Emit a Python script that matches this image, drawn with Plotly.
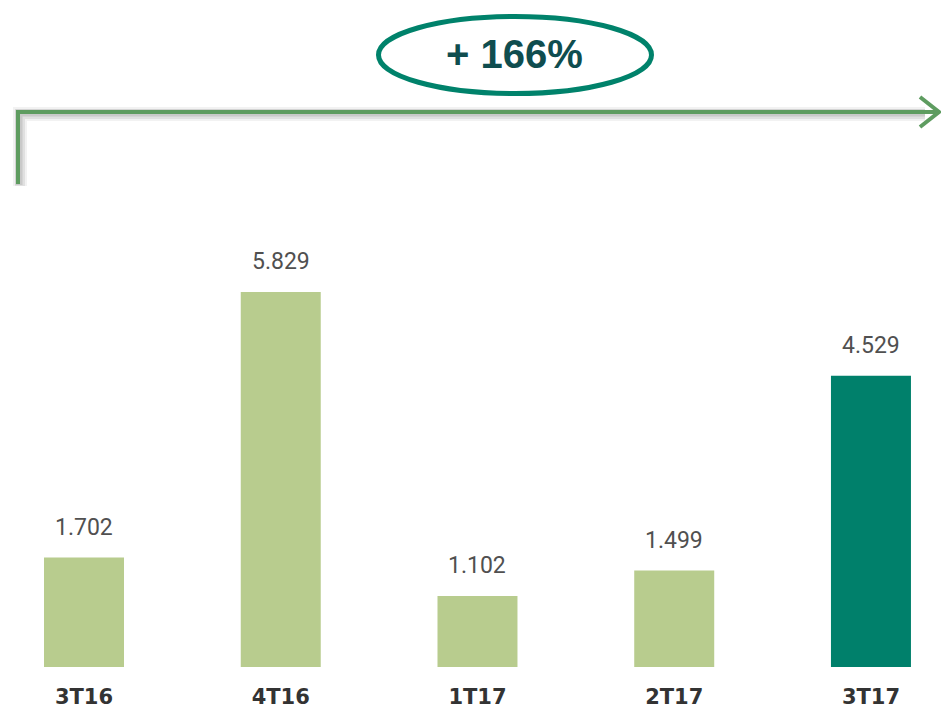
import plotly.graph_objects as go

categories = ["3T16", "4T16", "1T17", "2T17", "3T17"]
values = [1.702, 5.829, 1.102, 1.499, 4.529]
value_labels = ["1.702", "5.829", "1.102", "1.499", "4.529"]
bar_colors = ["#b8cc8e", "#b8cc8e", "#b8cc8e", "#b8cc8e", "#00806b"]
growth_label = "+ 166%"

W, H = 941, 708
B = 41
PH = H - B  # plot-area height in px

def px(x):
    return x / W

def py(y):
    return 1 - y / PH

fig = go.Figure()
fig.add_trace(go.Bar(
    x=categories, y=values, width=0.4066,
    marker=dict(color=bar_colors, line=dict(width=0)),
    hoverinfo="skip",
))

for c, v, t in zip(categories, values, value_labels):
    fig.add_annotation(x=c, y=v, xref="x", yref="y", text=t, showarrow=False,
                       yanchor="bottom", yshift=15,
                       font=dict(family="Roboto, Open Sans, sans-serif", size=23, color="#505050"))

shapes = []
green = "#5e9c60"
# soft shadow
for w, op, off in [(14, 0.05, 2), (10, 0.07, 2), (7, 0.10, 1)]:
    shapes.append(dict(type="path", xref="paper", yref="paper",
                       path=f"M {px(18+off)},{py(184+off)} L {px(18+off)},{py(112+off)} L {px(925)},{py(112+off)}",
                       line=dict(color=f"rgba(0,0,0,{op})", width=w)))
shapes.append(dict(type="path", xref="paper", yref="paper",
                   path=f"M {px(18)},{py(184)} L {px(18)},{py(112)} L {px(938)},{py(112)}",
                   line=dict(color=green, width=4)))
shapes.append(dict(type="path", xref="paper", yref="paper",
                   path=f"M {px(920)},{py(97)} L {px(939)},{py(112)} L {px(920)},{py(127)}",
                   line=dict(color=green, width=4)))
# ellipse
shapes.append(dict(type="circle", xref="paper", yref="paper",
                   x0=px(378.5), x1=px(651.5), y0=py(93.5), y1=py(16.5),
                   line=dict(color="#00826b", width=5), fillcolor="rgba(0,0,0,0)"))

fig.add_annotation(x=px(514), y=py(54), xref="paper", yref="paper", text=growth_label,
                   showarrow=False, xanchor="center", yanchor="middle",
                   font=dict(family="Liberation Sans, Arial, sans-serif", size=40, color="#0f4d4f", weight="bold"))

fig.update_layout(
    width=W, height=H,
    margin=dict(l=0, r=0, t=0, b=B, pad=0),
    plot_bgcolor="white", paper_bgcolor="white",
    showlegend=False,
    shapes=shapes,
    xaxis=dict(type="category", range=[-0.427, 4.356], showgrid=False, zeroline=False,
               showline=False, ticks="", ticklabelstandoff=15, fixedrange=True,
               tickfont=dict(family="DejaVu Sans, Liberation Sans, sans-serif", size=21, color="#333333", weight="bold")),
    yaxis=dict(range=[0, 10.368], visible=False, showgrid=False, zeroline=False, fixedrange=True),
)

fig.write_html("out.html", config={"displayModeBar": False},
               post_script="document.body.style.margin='0';document.body.style.overflow='hidden';")
